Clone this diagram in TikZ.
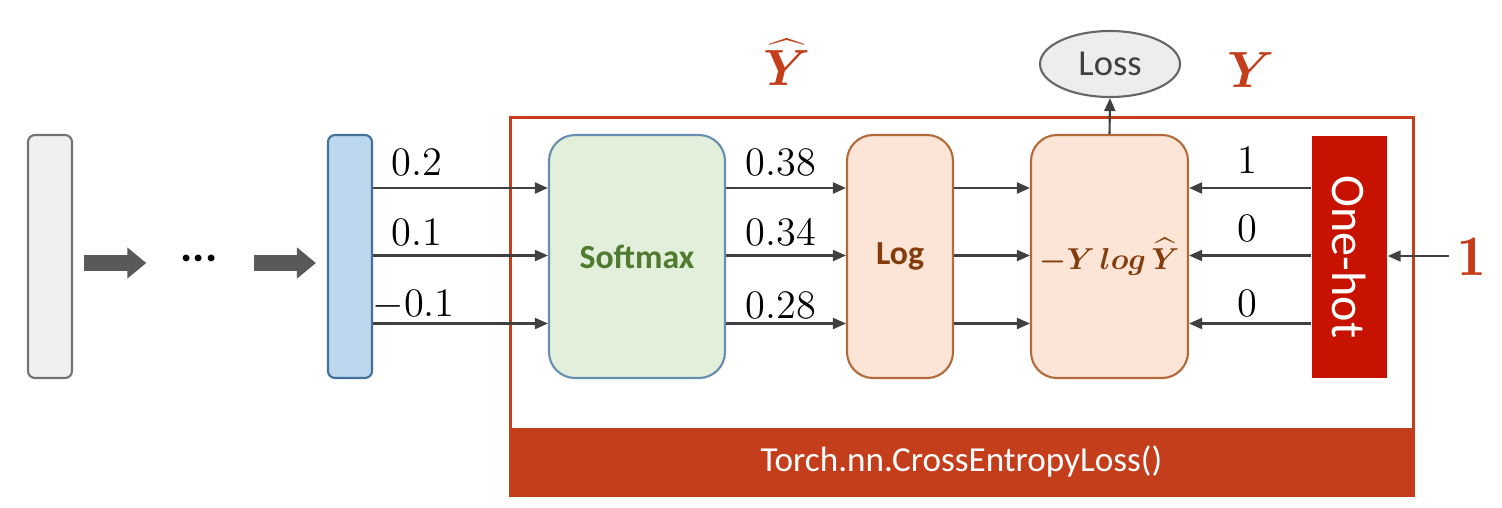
\RequirePackage{fix-cm}
\documentclass[tikz,border=0pt]{standalone}
\usepackage{fontspec}
\usepackage{bm}
\setsansfont{Carlito}
\usetikzlibrary{arrows.meta,shapes.geometric}

\definecolor{cframe}{HTML}{C43E1C}
\definecolor{chot}{HTML}{C81200}
\definecolor{cgreen}{HTML}{E2EFDA}
\definecolor{cgreentx}{HTML}{4F7A30}
\definecolor{cpeach}{HTML}{FCE4D6}
\definecolor{cbrown}{HTML}{B36A3A}
\definecolor{cbrowntx}{HTML}{843C0C}
\definecolor{cblue}{HTML}{BDD7EE}
\definecolor{cbluedk}{HTML}{41719C}
\definecolor{cline}{HTML}{404040}
\newcommand{\boxh}{2.43}

\begin{document}
\begin{tikzpicture}[
    layer/.style={draw, rounded corners=0.07cm, line width=0.6pt, minimum width=0.44cm,
                  minimum height=\boxh cm, inner sep=0pt},
    block/.style={draw, rounded corners=0.26cm, line width=0.6pt, minimum height=\boxh cm,
                  inner sep=0pt, font=\sffamily\bfseries\fontsize{9.6}{11}\selectfont},
    arr/.style={cline, line width=0.6pt, -{Triangle[length=0.13cm, width=0.11cm]}},
    fat/.style={black!65, line width=0.16cm, -{Triangle[length=0.19cm, width=0.30cm]}},
    num/.style={font=\fontsize{11.5}{13}\selectfont, inner sep=0pt},
    sym/.style={text=cframe, inner sep=0pt},
]
\useasboundingbox (0,0) rectangle (15.02,-5.07);

% Rows of the three outputs
\coordinate (r1) at (0,-1.88);
\coordinate (r2) at (0,-2.555);
\coordinate (r3) at (0,-3.235);

% --- Network layers ---
\node[layer, fill=black!6, draw=black!55] (inp) at (0.50,-2.565) {};
\node[font=\sffamily\bfseries\fontsize{13}{15}\selectfont, inner sep=0pt] (dots) at (1.99,-2.58) {\makebox[0.32cm]{...}};
\node[layer, fill=cblue, draw=cbluedk] (out) at (3.50,-2.565) {};
\coordinate (mid) at (0,-2.63);
\draw[fat, shorten <=0.11cm, shorten >=0.36cm] (inp.east |- mid) -- (dots.west |- mid);
\draw[fat, shorten <=0.38cm, shorten >=0.11cm] (dots.east |- mid) -- (out.west |- mid);

% --- Loss module frame ---
\draw[cframe, line width=0.85pt] (5.10,-1.17) rectangle (14.13,-4.95);
\node[fill=cframe, minimum width=9.03cm, minimum height=0.67cm, inner sep=0pt,
      text=white, font=\sffamily\fontsize{10}{12}\selectfont] (bar) at (9.615,-4.615) {Torch.nn.CrossEntropyLoss()};

% --- Blocks ---
\node[block, fill=cgreen, draw=cbluedk!80, minimum width=1.76cm, text=cgreentx] (soft) at (6.37,-2.565) {Softmax};
\node[block, fill=cpeach, draw=cbrown, minimum width=1.06cm, text=cbrowntx] (log) at (9.00,-2.565) {Log};
\node[block, fill=cpeach, draw=cbrown, minimum width=1.57cm, text=cbrowntx,
      font=\fontsize{8.6}{10}\selectfont] (ce) at (11.095,-2.565) {$\bm{-Y\,log\,\widehat{Y}}$};
\node[fill=chot, minimum width=0.75cm, minimum height=2.42cm, inner sep=0pt] (hot) at (13.495,-2.57) {};
\node[rotate=-90, text=white, font=\sffamily\fontsize{13.7}{15}\selectfont] (hottx) at (hot) {One-hot};
\node[ellipse, draw=black!60, fill=black!7, line width=0.6pt, minimum width=1.40cm, minimum height=0.66cm,
      inner sep=0pt, text=black!75, font=\sffamily\fontsize{10.4}{12}\selectfont] (loss) at (11.10,-0.64) {Loss};

% Symbols
\node[sym, font=\fontsize{14.5}{16}\selectfont] (yhat) at (7.87,-0.62) {$\bm{\widehat{Y}}$};
\node[sym, font=\fontsize{14.5}{16}\selectfont] (y) at (12.51,-0.70) {$\bm{Y}$};
\node[sym, font=\fontsize{16.3}{18}\selectfont] (lbl) at (14.72,-2.565) {$\mathbf{1}$};
\coordinate (lblw) at (14.49,-2.56);

% --- Connectors ---
\foreach \r in {r1,r2,r3} {
    \draw[arr] (out.east |- \r) -- (soft.west |- \r);
    \draw[arr] (soft.east |- \r) -- (log.west |- \r);
    \draw[arr] (log.east |- \r) -- (ce.west |- \r);
    \draw[arr] (hot.west |- \r) -- (ce.east |- \r);
}
\draw[arr] (ce.north) -- (loss.south);
\draw[arr] (lblw) -- (hot.east |- lblw);

% Values on the arrows
\node[num] (a1) at (4.17,-1.62) {0.2};
\node[num] (a2) at (4.17,-2.32) {0.1};
\node[num, anchor=west] (a3) at (3.72,-3.05) {$-$0.1};
\node[num] (b1) at (7.81,-1.62) {0.38};
\node[num] (b2) at (7.81,-2.32) {0.34};
\node[num] (b3) at (7.81,-3.05) {0.28};
\node[num] (c1) at (12.47,-1.60) {1};
\node[num] (c2) at (12.47,-2.28) {0};
\node[num] (c3) at (12.47,-3.03) {0};

\end{tikzpicture}
\end{document}
